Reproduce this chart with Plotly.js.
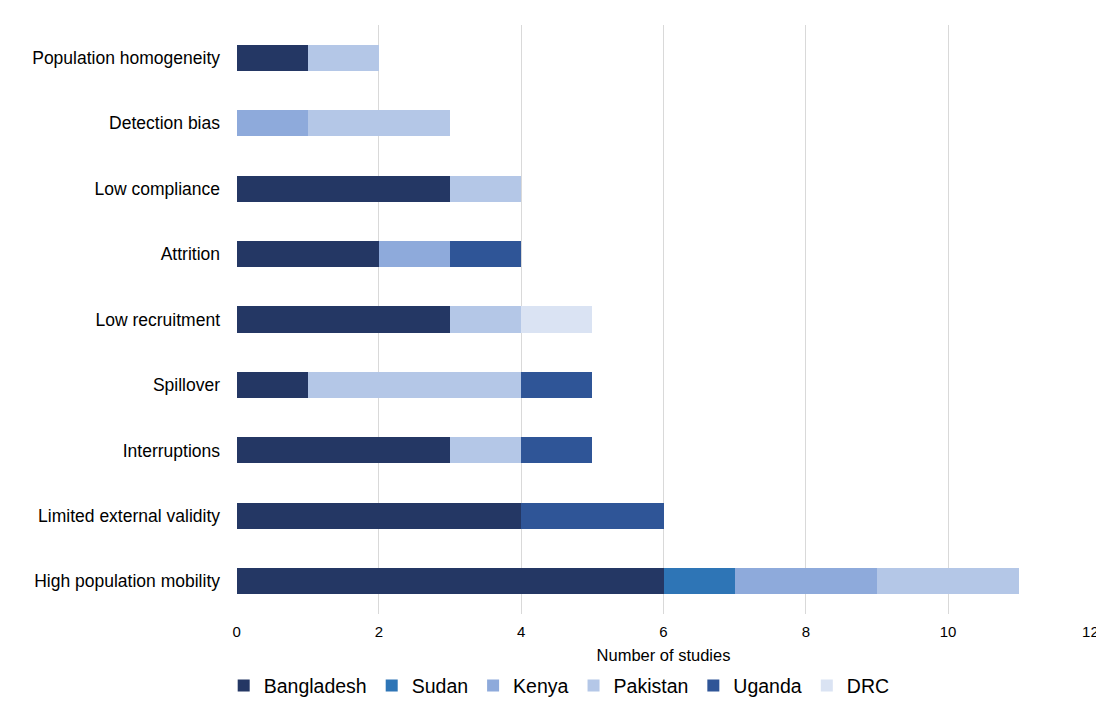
<!DOCTYPE html>
<html>
<head>
<meta charset="utf-8">
<script src="https://cdn.plot.ly/plotly-3.0.1.min.js"></script>
<style>html,body{margin:0;padding:0;background:#fff;}#chart{width:1096px;height:701px;}</style>
</head>
<body>
<div id="chart"></div>
<script>
// Categories listed bottom to top
const categories = [
  "High population mobility",
  "Limited external validity",
  "Interruptions",
  "Spillover",
  "Low recruitment",
  "Attrition",
  "Low compliance",
  "Detection bias",
  "Population homogeneity"
];
const countries = ["Bangladesh", "Sudan", "Kenya", "Pakistan", "Uganda", "DRC"];
const bangladesh = [6, 4, 3, 1, 3, 2, 3, 0, 1];
const sudan      = [1, 0, 0, 0, 0, 0, 0, 0, 0];
const kenya      = [2, 0, 0, 0, 0, 1, 0, 1, 0];
const pakistan   = [2, 0, 1, 3, 1, 0, 1, 2, 1];
const uganda     = [0, 2, 1, 1, 0, 1, 0, 0, 0];
const drc        = [0, 0, 0, 0, 1, 0, 0, 0, 0];
const xTicks = [0, 2, 4, 6, 8, 10, 12];

const seriesValues = [bangladesh, sudan, kenya, pakistan, uganda, drc];
const colors = ["#243764", "#2e75b6", "#8eaadb", "#b4c7e7", "#2f5597", "#dae3f3"];

const traces = countries.map((name, i) => ({
  type: "bar",
  orientation: "h",
  name: name,
  y: categories,
  x: seriesValues[i],
  marker: { color: colors[i], line: { width: 0 } },
  width: 0.4,
  hoverinfo: "x+y+name"
}));

const layout = {
  width: 1096,
  height: 701,
  barmode: "stack",
  margin: { l: 236, r: 5, t: 25, b: 87, autoexpand: false },
  paper_bgcolor: "#ffffff",
  plot_bgcolor: "#ffffff",
  font: { family: "Liberation Sans, Arial, sans-serif", color: "#000000" },
  xaxis: {
    range: [-0.008, 12.008],
    tickvals: xTicks,
    ticktext: xTicks.map(String),
    showgrid: true,
    gridcolor: "#d9d9d9",
    gridwidth: 1,
    zeroline: false,
    showline: false,
    ticks: "",
    ticklabelstandoff: 7,
    ticklabeloverflow: "allow",
    tickfont: { size: 15, color: "#000" },
    title: { text: "Number of studies", font: { size: 16.5, color: "#000" }, standoff: 10 },
    automargin: false,
    fixedrange: true
  },
  yaxis: {
    type: "category",
    categoryorder: "array",
    categoryarray: categories,
    range: [-0.5, 8.5],
    showgrid: false,
    zeroline: false,
    showline: false,
    ticks: "",
    ticklabelstandoff: 15,
    tickfont: { size: 17.5, color: "#000" },
    automargin: false,
    fixedrange: true
  },
  legend: {
    orientation: "h",
    x: 0.378,
    xanchor: "center",
    y: -0.122,
    yanchor: "middle",
    font: { size: 19.5, color: "#000" },
    traceorder: "normal",
    itemwidth: 30,
    tracegroupgap: 0
  },
  showlegend: true
};

Plotly.newPlot("chart", traces, layout, { displayModeBar: false, staticPlot: true });
</script>
</body>
</html>
